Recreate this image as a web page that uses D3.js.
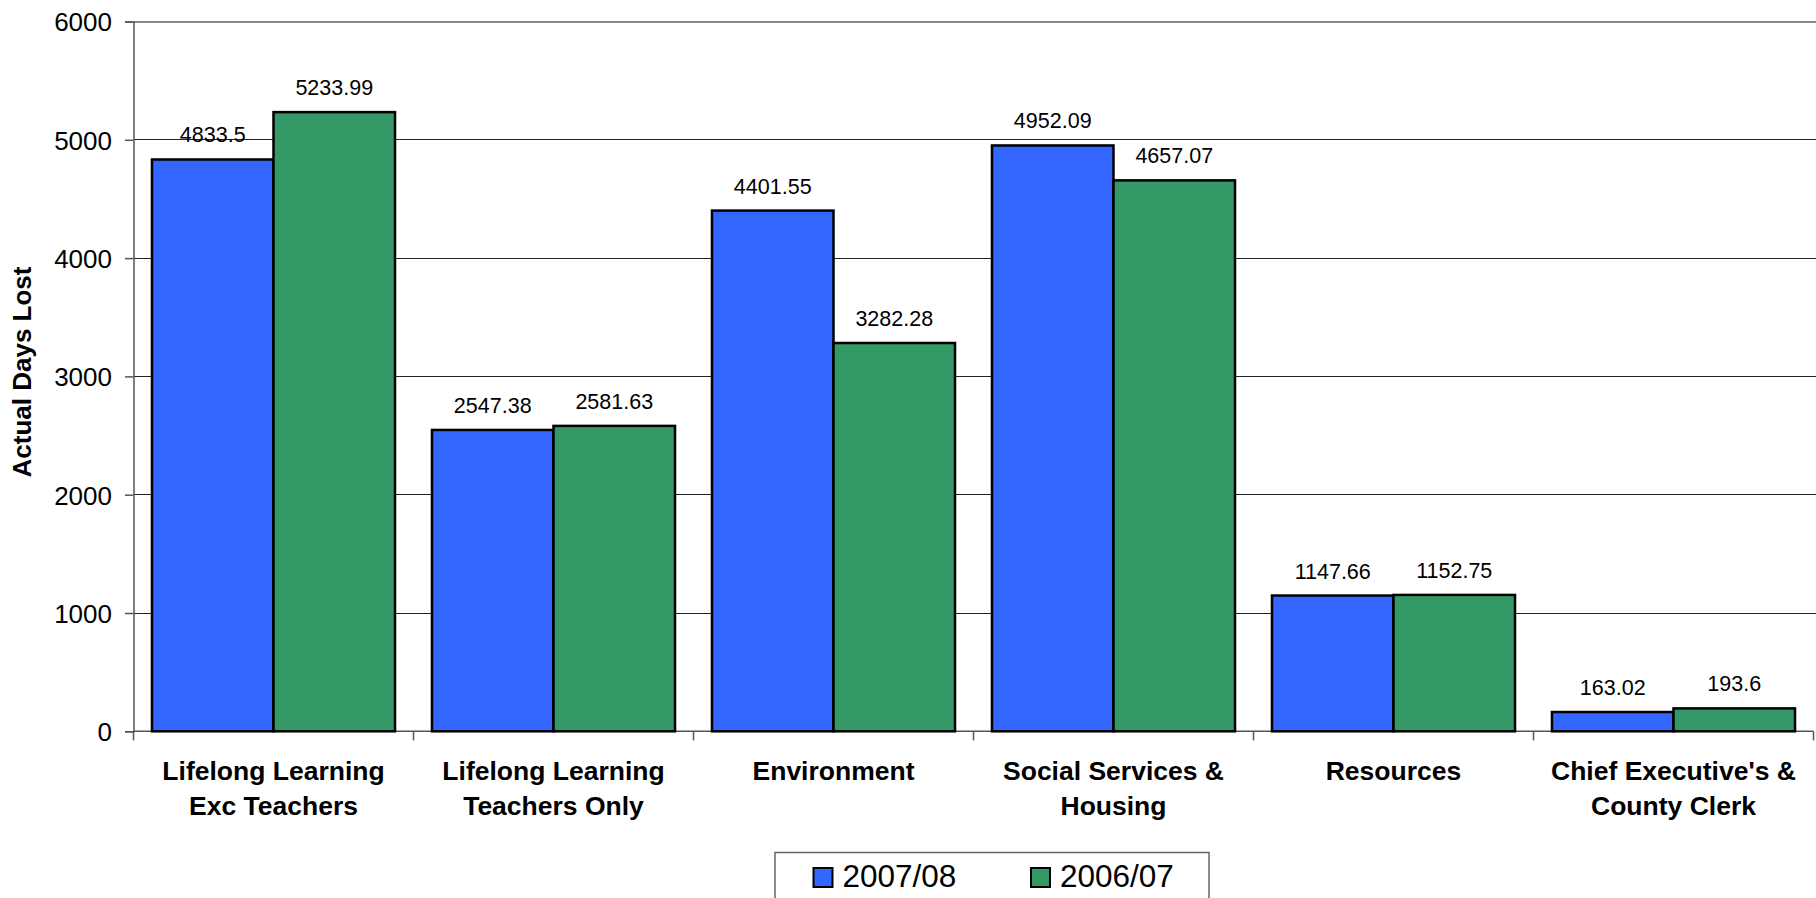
<!DOCTYPE html>
<html>
<head>
<meta charset="utf-8">
<script src="https://cdn.jsdelivr.net/npm/d3@7"></script>
<style>
html,body{margin:0;padding:0;background:#fff;overflow:hidden;}
svg{display:block;font-family:"Liberation Sans",Arial,sans-serif;}
</style>
</head>
<body>
<svg id="chart" width="1816" height="898"></svg>
<script>
const categories = [
  ["Lifelong Learning","Exc Teachers"],
  ["Lifelong Learning","Teachers Only"],
  ["Environment"],
  ["Social Services &","Housing"],
  ["Resources"],
  ["Chief Executive's &","County Clerk"]
];
const seriesNames = ["2007/08","2006/07"];
const values2007 = [4833.5, 2547.38, 4401.55, 4952.09, 1147.66, 163.02];
const values2006 = [5233.99, 2581.63, 3282.28, 4657.07, 1152.75, 193.6];
const yTicks = [0,1000,2000,3000,4000,5000,6000];
const colors = ["#3366FF","#339966"];
const yTitle = "Actual Days Lost";

(function(){
const svg = d3.select("#chart");
const pLeft = 133.5, pRight = 1813.5, pTop = 21.5, pBottom = 731.3;

const x0 = d3.scaleBand().domain(d3.range(categories.length)).range([pLeft,pRight])
  .paddingInner(0.132).paddingOuter(0.066);
const x1 = d3.scaleBand().domain([0,1]).range([0,x0.bandwidth()]).padding(0);
const y = d3.scaleLinear().domain([0,6000]).range([pBottom,pTop]);
const series = [values2007, values2006];

// gridlines
svg.append("g").selectAll("line").data(yTicks.filter(t=>t>0)).join("line")
  .attr("x1",pLeft).attr("x2",pRight+2)
  .attr("y1",d=>y(d)).attr("y2",d=>y(d))
  .attr("stroke",d=>d===6000?"#888":"#222")
  .attr("stroke-width",d=>d===6000?2:1)
  .attr("shape-rendering","crispEdges");

// y axis
const yAxis = d3.axisLeft(y).tickValues(yTicks).tickSize(8.5).tickPadding(13).tickFormat(d3.format("d"));
const gy = svg.append("g").attr("transform",`translate(${pLeft},0)`).call(yAxis);
gy.select(".domain").attr("stroke","#555").attr("stroke-width",1.5);
gy.selectAll(".tick line").attr("stroke","#555").attr("stroke-width",1.5);
gy.selectAll(".tick text").attr("font-size",26).attr("fill","#000")
  .attr("font-family","Liberation Sans, Arial, sans-serif").attr("dy","0.36em");

// x axis ticks at category boundaries
const boundaries = d3.range(categories.length+1).map(i=>pLeft + i*x0.step());
svg.append("line").attr("x1",pLeft).attr("x2",pRight).attr("y1",pBottom).attr("y2",pBottom)
  .attr("stroke","#555").attr("stroke-width",1.5);
svg.append("g").selectAll("line").data(boundaries).join("line")
  .attr("x1",d=>d).attr("x2",d=>d).attr("y1",pBottom).attr("y2",pBottom+9)
  .attr("stroke","#555").attr("stroke-width",1.5);

// bars
const groups = svg.append("g").selectAll("g").data(categories.map((c,i)=>i)).join("g")
  .attr("transform",i=>`translate(${x0(i)},0)`);
groups.selectAll("rect").data(i=>series.map((s,k)=>({k,v:s[i]}))).join("rect")
  .attr("x",d=>x1(d.k)).attr("width",x1.bandwidth())
  .attr("y",d=>y(d.v)).attr("height",d=>pBottom-y(d.v))
  .attr("fill",d=>colors[d.k]).attr("stroke","#000").attr("stroke-width",2.5);
groups.selectAll("text").data(i=>series.map((s,k)=>({k,v:s[i]}))).join("text")
  .attr("x",d=>x1(d.k)+x1.bandwidth()/2).attr("y",d=>y(d.v)-17)
  .attr("text-anchor","middle").attr("font-size",21.5).attr("fill","#000")
  .text(d=>String(d.v));

// category labels
const cat = svg.append("g").selectAll("text").data(categories).join("text")
  .attr("x",(d,i)=>x0(i)+x0.bandwidth()/2).attr("y",780)
  .attr("text-anchor","middle").attr("font-size",26.5).attr("font-weight","bold").attr("fill","#000");
cat.selectAll("tspan").data(d=>d).join("tspan")
  .attr("x",function(){return this.parentNode.getAttribute("x");})
  .attr("dy",(d,j)=>j===0?0:34.5).text(d=>d);

// y title
svg.append("text").attr("transform","translate(31,372) rotate(-90)")
  .attr("text-anchor","middle").attr("font-size",26).attr("font-weight","bold").text(yTitle);

// legend
const lg = svg.append("g");
lg.append("rect").attr("x",775).attr("y",852.5).attr("width",434).attr("height",60)
  .attr("fill","#fff").attr("stroke","#666").attr("stroke-width",1.5);
const legX = [813.5, 1031];
seriesNames.forEach((n,k)=>{
  lg.append("rect").attr("x",legX[k]).attr("y",868).attr("width",19).attr("height",19)
    .attr("fill",colors[k]).attr("stroke","#000").attr("stroke-width",2);
  lg.append("text").attr("x",legX[k]+29).attr("y",886.7).attr("font-size",31.5).attr("fill","#000").text(n);
});
})();
</script>
</body>
</html>
